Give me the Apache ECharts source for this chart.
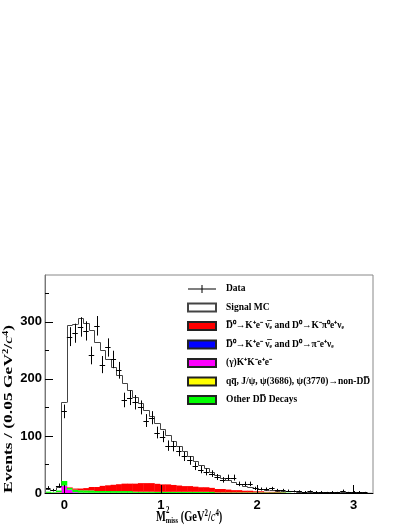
<!DOCTYPE html>
<html>
<head>
<meta charset="utf-8">
<script src="https://cdn.jsdelivr.net/npm/echarts@6/dist/echarts.min.js"></script>
<style>html,body{margin:0;background:#fff}#chart{width:407px;height:527px}</style>
</head>
<body>
<div id="chart"></div>
<script>
var xMin = -0.2, xMax = 3.2, nBins = 60, yMax = 382;

var dataCounts = [9,5,13,143,274,280,291,284,241,293, 225,255,234,215,163,167,159,150,127,132,
                  106,99,83,82,73,64,57,47,41,37, 34,28,23,27,27,16,16,16,8,7,
                  7,8,5,5,4,3,3,2,3,2, 2,1,2,1,4,1,2,2,1,0];
var signalMC = [7,5,11,159,295,296,306,298,285,264, 250,234,220,207,193,180,168,157,146,135,
                123,112,101,91,82,73,64,56,49,43, 37,32,27,23,19,16,13,11,9,7,
                6,5,4,3.5,3,2.8,2.5,2.2,2,1.8, 1.6,1.4,1.3,1.2,1.1,1,0.9,0.8,0.7,0.6];
// backgrounds, stacked bottom -> top: KKee, pi e nu, non-DD, other DD, K pi0 e nu
var bgKKee = [0,0,1,12,5,1,0,0,0,0, 0,0,0,0,0,0,0,0,0,0, 0,0,0,0,0,0,0,0,0,0,
              0,0,0,0,0,0,0,0,0,0, 0,0,0,0,0,0,0,0,0,0, 0,0,0,0,0,0,0,0,0,0];
var bgPiENu = [0,0,0,0.5,0.5,0.5,0.5,0.3,0.3,0.3, 0.3,0.3,0.2,0.2,0.2,0.2,0.2,0.1,0.1,0.1, 0,0,0,0,0,0,0,0,0,0,
               0,0,0,0,0,0,0,0,0,0, 0,0,0,0,0,0,0,0,0,0, 0,0,0,0,0,0,0,0,0,0];
var bgNonDD = [0.3,0.2,0.3,0.5,0.3,0.3,0.3,0.3,0.2,0.2, 0.2,0.2,0.2,0.2,0.2,0.2,0.2,0.2,0.2,0.2, 0.1,0.1,0.1,0.1,0.1,0.1,0.1,0.1,0.1,0.1,
               0,0,0,0,0,0,0,0,0,0, 0,0,0,0,0,0,0,0,0,0, 0,0,0,0,0,0,0,0,0,0];
var bgOtherDD = [2,1,3,8,3,4,4,4,4,3, 3,3,3,3,3,3,2,2,2,2, 2,2,2,2,2,2,2,2,2,2,
                 2,1,1,1,1,1,1,1,1,1, 1,1,1,1,0.5,0,0,0,0,0, 0,0,0,0,0,0,0,0,0,0];
var bgKPi0 = [0,0,0,0,1,2,3,4,6,7, 9,10,11,12,13,13,14,15,15,15, 14,13,13,12,11,10,10,9,8,8,
              7,6,6,5,4,4,3,3,2,2, 1,1,1,0.5,0,0,0,0,0,0, 0,0,0,0,0,0,0,0,0,0];

var xTicks = [0, 1, 2, 3];
var yTicks = [0, 100, 200, 300];
var yMinorTicks = [50, 150, 250, 350];

var nameData = 'Data';
var nameMC = 'Signal MC';
var nameKPi0 = 'D\u0305\u2070\u2192K\u207Ae\u207B \u03BD\u0305\u2091 and D\u2070\u2192K\u207B\u03C0\u2070e\u207A\u03BD\u2091';
var namePi = 'D\u0305\u2070\u2192K\u207Ae\u207B \u03BD\u0305\u2091 and D\u2070\u2192\u03C0\u207Be\u207A\u03BD\u2091';
var nameKKee = '(\u03B3)K\u207AK\u207Be\u207Ae\u207B';
var nameNonDD = 'qq\u0305, J/\u03C8, \u03C8(3686), \u03C8(3770)\u2192non-DD\u0305';
var nameOtherDD = 'Other DD\u0305 Decays';

var binW = (xMax - xMin) / nBins;
function edge(i) { return xMin + i * binW; }
function snap(v) { return Math.round(v) + 0.5; }

var myChart = echarts.init(document.getElementById('chart'));

var stackOrder = [
    [nameKKee, bgKKee, '#ff00ff'],
    [namePi, bgPiENu, '#0000ff'],
    [nameNonDD, bgNonDD, '#ffff00'],
    [nameOtherDD, bgOtherDD, '#00ff00'],
    [nameKPi0, bgKPi0, '#ff0000']
];

var base = dataCounts.map(function () { return 0; });
var bgSeries = stackOrder.map(function (s) {
    var vals = s[1], color = s[2];
    var data = vals.map(function (v, i) { return [edge(i), edge(i + 1), base[i], base[i] + v]; });
    base = base.map(function (b, i) { return b + vals[i]; });
    return {
        type: 'custom', name: s[0], data: data, z: 3, clip: true,
        itemStyle: { color: color, borderColor: '#222', borderWidth: 1 },
        renderItem: function (params, api) {
            if (api.value(3) <= api.value(2)) return;
            var p0 = api.coord([api.value(0), api.value(3)]);
            var p1 = api.coord([api.value(1), api.value(2)]);
            return { type: 'rect', shape: { x: p0[0], y: p0[1], width: p1[0] - p0[0] + 0.4, height: p1[1] - p0[1] },
                     style: { fill: color } };
        }
    };
});

var mcSeries = {
    type: 'custom', name: nameMC, z: 2, clip: true,
    itemStyle: { color: '#fff', borderColor: '#444', borderWidth: 1 },
    data: signalMC.map(function (v, i) { return [edge(i), edge(i + 1), i ? signalMC[i - 1] : 0, v]; }),
    renderItem: function (params, api) {
        var a = api.coord([api.value(0), api.value(3)]);
        var b = api.coord([api.value(1), 0]);
        var p = api.coord([api.value(0), api.value(2)]);
        var x0 = snap(a[0]), x1 = snap(b[0]), y = snap(a[1]);
        return { type: 'group', children: [
            { type: 'rect', shape: { x: a[0], y: a[1], width: b[0] - a[0] + 0.4, height: b[1] - a[1] }, style: { fill: '#fff' } },
            { type: 'line', shape: { x1: x0, y1: y, x2: x1, y2: y }, style: { stroke: '#444', lineWidth: 1 } },
            { type: 'line', shape: { x1: x0, y1: snap(p[1]), x2: x0, y2: y }, style: { stroke: '#444', lineWidth: 1 } }
        ] };
    }
};

var dataSeries = {
    type: 'custom', name: nameData, z: 5, clip: true,
    itemStyle: { color: '#000', borderWidth: 0 },
    data: dataCounts.map(function (v, i) { return [edge(i), edge(i + 1), v, Math.sqrt(v)]; }),
    renderItem: function (params, api) {
        var v = api.value(2), e = api.value(3);
        if (v <= 0) return;
        var l = api.coord([api.value(0), v]);
        var r = api.coord([api.value(1), v]);
        var top = api.coord([0, v + e]), bot = api.coord([0, v - e]);
        var xc = snap((l[0] + r[0]) / 2), y = snap(l[1]);
        return { type: 'group', children: [
            { type: 'line', shape: { x1: l[0], y1: y, x2: r[0], y2: y }, style: { stroke: '#000', lineWidth: 1 } },
            { type: 'line', shape: { x1: xc, y1: top[1], x2: xc, y2: bot[1] }, style: { stroke: '#000', lineWidth: 1 } }
        ] };
    }
};

var tickFont = { color: '#000', fontFamily: 'Liberation Sans', fontWeight: 'bold', fontSize: 13 };
var serif = 'Liberation Serif';

myChart.setOption({
    animation: false,
    backgroundColor: '#fff',
    grid: { left: 45, right: 34, top: 275, bottom: 34, show: true, borderColor: '#888', borderWidth: 1 },
    legend: {
        orient: 'vertical', left: 182, top: 278, itemWidth: 28, itemHeight: 8, itemGap: 6.5,
        icon: 'rect', symbolKeepAspect: false, selectedMode: false,
        textStyle: { fontFamily: serif, fontWeight: 'bold', fontSize: 9.5, color: '#000', lineHeight: 12, padding: [0, 0, 0, 5] },
        data: [
            { name: nameData, icon: 'path://M0,4.5H13.5V0H14.5V4.5H28V5.5H14.5V10H13.5V5.5H0Z' },
            nameMC, nameKPi0, namePi, nameKKee, nameNonDD, nameOtherDD
        ]
    },
    xAxis: {
        type: 'value', min: xMin, max: xMax, z: 10,
        axisLine: { show: true, onZero: false, lineStyle: { color: '#000' } },
        axisTick: { inside: true, length: 8, customValues: xTicks, lineStyle: { color: '#000' } },
        axisLabel: Object.assign({ customValues: xTicks, margin: 6 }, tickFont),
        splitLine: { show: false }
    },
    yAxis: [{
        type: 'value', min: 0, max: yMax, z: 10,
        axisLine: { show: true, onZero: false, lineStyle: { color: '#777' } },
        axisTick: { inside: true, length: 8, customValues: yTicks, lineStyle: { color: '#000' } },
        axisLabel: Object.assign({ customValues: yTicks, margin: 3 }, tickFont),
        splitLine: { show: false }
    }, {
        type: 'value', min: 0, max: yMax, position: 'left', z: 10,
        axisLine: { show: false, onZero: false },
        axisTick: { show: true, inside: true, length: 4, customValues: yMinorTicks, lineStyle: { color: '#000' } },
        axisLabel: { show: false },
        splitLine: { show: false }
    }],
    graphic: [{
        type: 'text', x: 9, y: 409, rotation: Math.PI / 2, scaleY: 0.75, z: 20,
        style: {
            text: '{a|Events / (0.05 GeV}{s|2}{a|/}{i|c}{s|4}{a|)}',
            align: 'center', verticalAlign: 'middle',
            rich: {
                a: { fontFamily: serif, fontWeight: 'bold', fontSize: 17.5, lineHeight: 19, fill: '#000' },
                s: { fontFamily: serif, fontWeight: 'bold', fontSize: 10.5, lineHeight: 19, verticalAlign: 'top', fill: '#000' },
                i: { fontFamily: serif, fontStyle: 'italic', fontSize: 17.5, lineHeight: 19, fill: '#000' }
            }
        }
    }, {
        type: 'text', x: 156, y: 517, scaleX: 0.72, z: 20,
        style: {
            text: '{a|M}{b|miss}{a| (GeV}{s|2}{a|/}{i|c}{s|4}{a|)}',
            align: 'left', verticalAlign: 'middle',
            rich: {
                a: { fontFamily: serif, fontWeight: 'bold', fontSize: 14.5, lineHeight: 16, fill: '#000' },
                b: { fontFamily: serif, fontWeight: 'bold', fontSize: 9, lineHeight: 16, verticalAlign: 'bottom', fill: '#000' },
                s: { fontFamily: serif, fontWeight: 'bold', fontSize: 9.5, lineHeight: 16, verticalAlign: 'top', fill: '#000' },
                i: { fontFamily: serif, fontStyle: 'italic', fontSize: 14.5, lineHeight: 16, fill: '#000' }
            }
        }
    }, {
        type: 'text', x: 166, y: 511, scaleX: 0.72, z: 20,
        style: { text: '2', fontFamily: serif, fontWeight: 'bold', fontSize: 9.5, fill: '#000', align: 'left', verticalAlign: 'middle' }
    }],
    series: [mcSeries].concat(bgSeries, [dataSeries])
});

window.onresize = function () {
    myChart.resize();
};
</script>
</body>
</html>
